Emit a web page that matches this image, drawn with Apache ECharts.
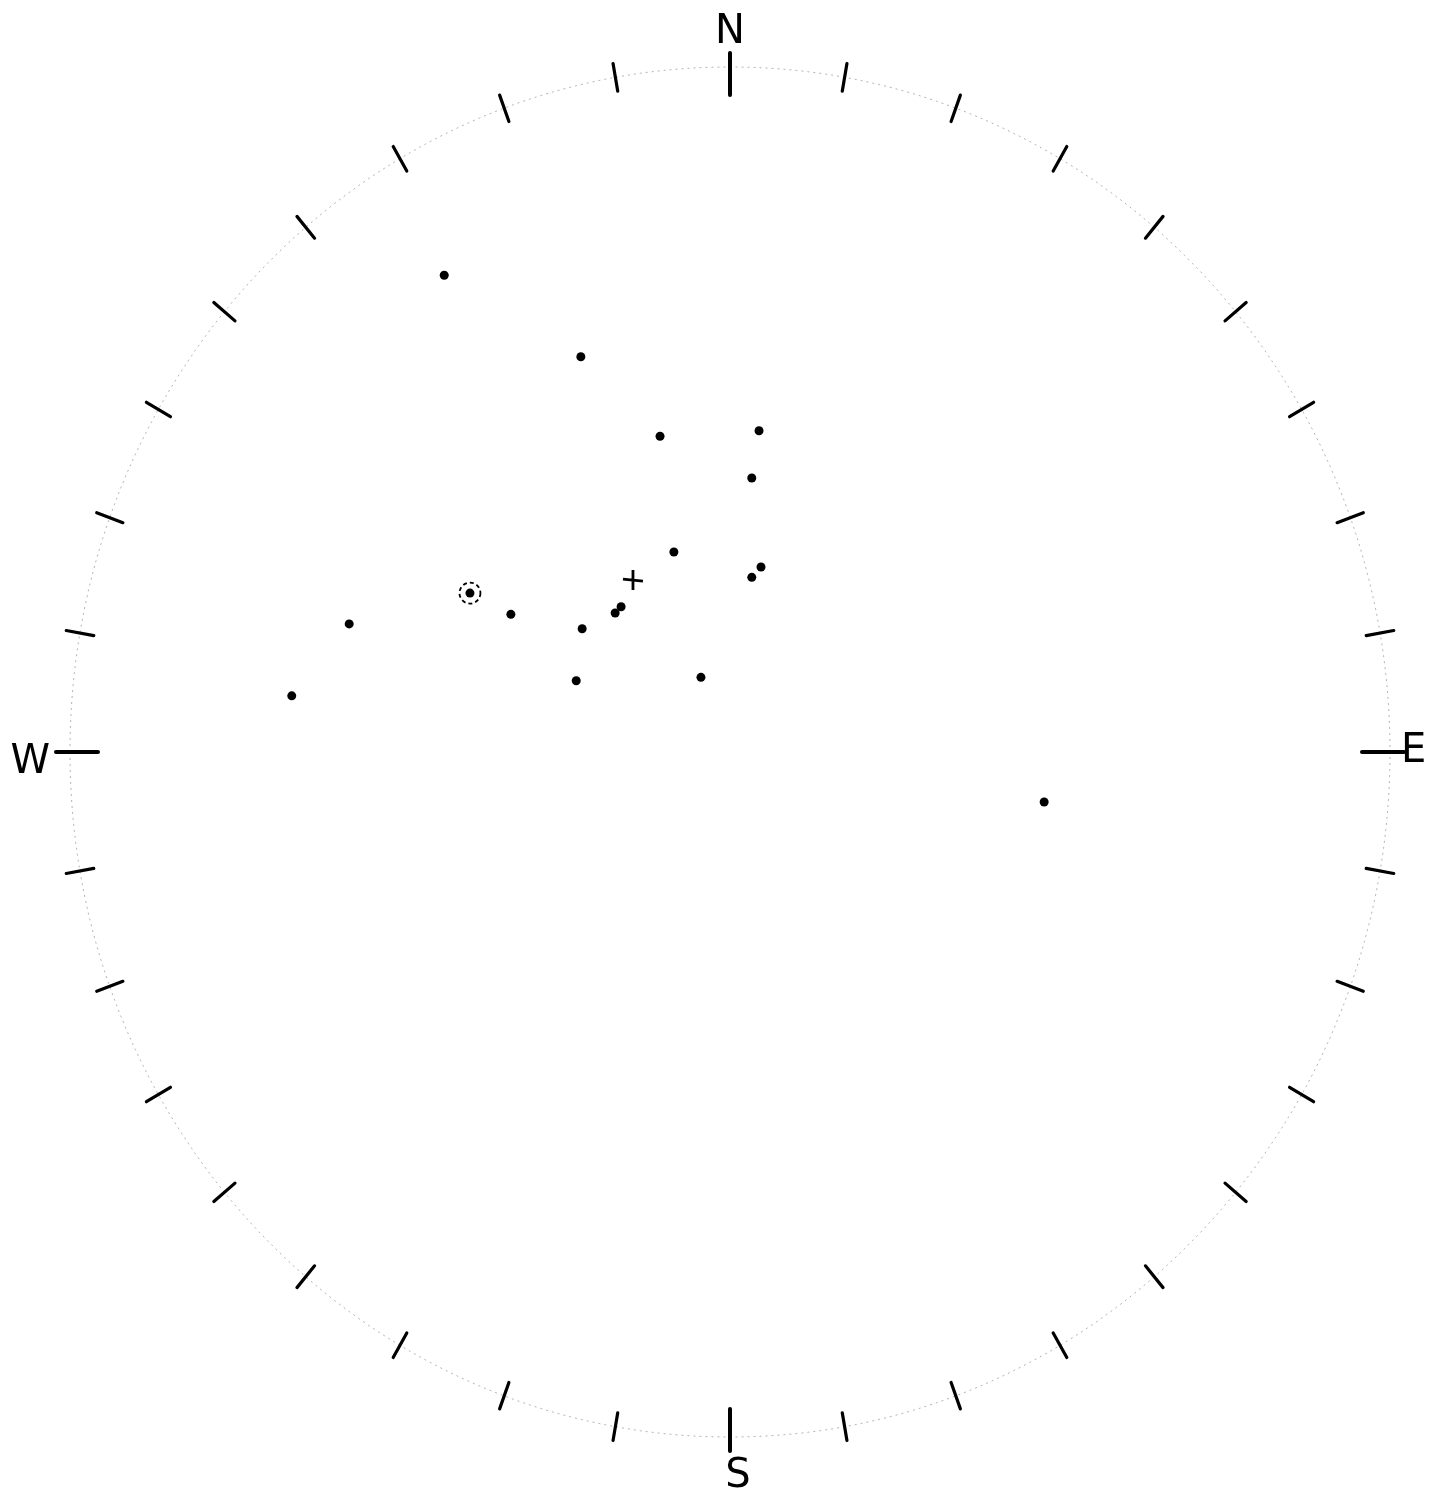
<!DOCTYPE html>
<html>
<head>
<meta charset="utf-8">
<title>stereonet</title>
<script src="https://cdn.jsdelivr.net/npm/echarts@6/dist/echarts.min.js"></script>
<style>
    html, body{
        margin: 0;
        padding: 0;
        background-color: #fff;
    }
    #chart{
        width: 1447px;
        height: 1495px;
    }
</style>
</head>
<body>
<div id="chart"></div>
<script>
    // poles, in net coords (east, north), circle radius = 1
    var poleX = [-0.433, -0.226, -0.106, 0.044, 0.033, -0.085, 0.047, 0.033, -0.332, -0.165, -0.174, -0.224, -0.577, -0.664, -0.233, -0.044, 0.476];
    var poleY = [0.696, 0.577, 0.461, 0.469, 0.400, 0.292, 0.270, 0.255, 0.201, 0.212, 0.203, 0.180, 0.187, 0.082, 0.104, 0.109, -0.073];
    // circled pole
    var ringX = [-0.394];
    var ringY = [0.232];
    // cross
    var crossX = [-0.147];
    var crossY = [0.251];
    // rim ticks every 10 degrees
    var tickAngles = [];
    for (var t = 0; t < 360; t += 10) tickAngles.push(t);
    var dirLabels = ['N', 'E', 'S', 'W'];
    var dirX = [0, 1.036, 0.012, -1.06];
    var dirY = [1.05, 0, -1.058, -0.015];

    function pairs(xs, ys){
        return xs.map(function (x, i) { return [x, ys[i]]; });
    }

    var myChart = echarts.init(document.getElementById('chart'));
    var option = {
        backgroundColor: '#fff',
        animation: false,
        grid: {left: 70, top: 67, width: 1320, height: 1370},
        xAxis: {type: 'value', min: -1, max: 1, show: false},
        yAxis: {type: 'value', min: -1, max: 1, show: false},
        series: [
            {
                // faint primitive circle
                type: 'custom',
                silent: true,
                clip: false,
                data: [[0, 0]],
                renderItem: function (params, api) {
                    var c = api.coord([0, 0]);
                    var e = api.coord([1, 0]);
                    var n = api.coord([0, 1]);
                    return {
                        type: 'ellipse',
                        shape: {cx: c[0], cy: c[1], rx: e[0] - c[0], ry: c[1] - n[1]},
                        style: {fill: null, stroke: '#b5b5b5', lineWidth: 1, lineDash: [2, 4]}
                    };
                }
            },
            {
                type: 'custom',
                silent: true,
                clip: false,
                dimensions: ['angle'],
                encode: {tooltip: 0},
                data: tickAngles.map(function (a) { return [a]; }),
                renderItem: function (params, api) {
                    var deg = api.value(0);
                    var a = deg * Math.PI / 180;
                    var c = api.coord([0, 0]);
                    var p = api.coord([Math.sin(a), Math.cos(a)]);
                    var dx = p[0] - c[0], dy = p[1] - c[1];
                    var len = Math.sqrt(dx * dx + dy * dy);
                    var ux = dx / len, uy = dy / len;
                    var major = deg % 90 === 0;
                    var inner = major ? 28 : 14;
                    var outer = 14;
                    return {
                        type: 'line',
                        shape: {x1: p[0] - ux * inner, y1: p[1] - uy * inner, x2: p[0] + ux * outer, y2: p[1] + uy * outer},
                        style: {stroke: '#000', lineWidth: major ? 4 : 3.2, lineCap: 'round'}
                    };
                }
            },
            {
                type: 'scatter',
                symbol: 'circle',
                symbolSize: 9,
                itemStyle: {color: '#000', opacity: 1},
                data: pairs(poleX, poleY)
            },
            {
                type: 'scatter',
                symbol: 'circle',
                symbolSize: 9,
                itemStyle: {color: '#000', opacity: 1},
                data: pairs(ringX, ringY)
            },
            {
                type: 'scatter',
                symbol: 'circle',
                symbolSize: 21,
                itemStyle: {color: 'rgba(0,0,0,0)', borderColor: '#000', borderWidth: 1.8, borderType: [4, 3], opacity: 1},
                data: pairs(ringX, ringY)
            },
            {
                type: 'scatter',
                symbol: 'path://M10,0 L10,20 M0,9 L20,11',
                symbolSize: 20,
                itemStyle: {color: 'none', borderColor: '#000', borderWidth: 2.8, opacity: 1},
                data: pairs(crossX, crossY)
            },
            {
                // N E S W
                type: 'scatter',
                symbolSize: 1,
                silent: true,
                clip: false,
                itemStyle: {color: '#fff', opacity: 1},
                data: dirLabels.map(function (s, i) { return {name: s, value: [dirX[i], dirY[i]]}; }),
                label: {
                    show: true,
                    position: 'inside',
                    formatter: '{b}',
                    fontFamily: 'DejaVu Sans',
                    fontSize: 40,
                    color: '#000',
                    opacity: 1
                }
            }
        ]
    };
    myChart.setOption(option);
</script>
</body>
</html>
